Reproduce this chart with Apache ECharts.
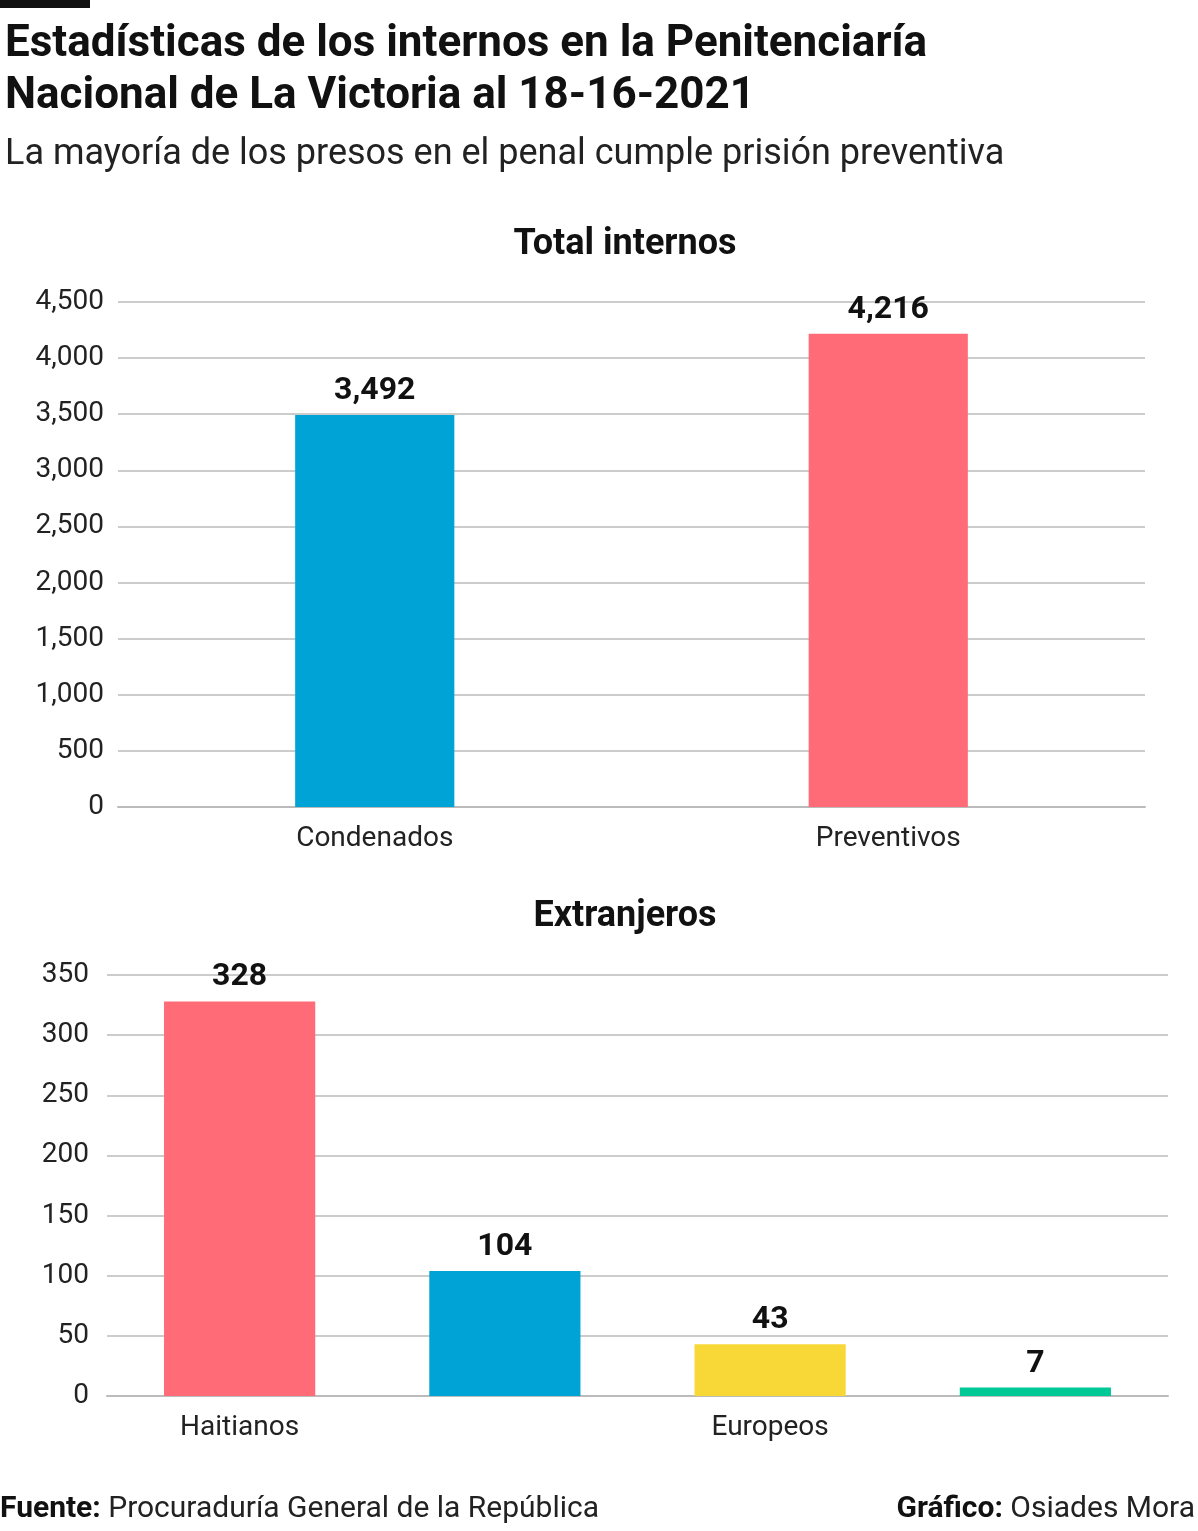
<!DOCTYPE html>
<html>
<head>
<meta charset="utf-8">
<script src="https://cdn.jsdelivr.net/npm/echarts@6/dist/echarts.min.js"></script>
<style>
  html, body { margin: 0; padding: 0; background: #fff; }
  #chart { width: 1198px; height: 1531px; }
</style>
</head>
<body>
<div id="chart"></div>
<script>
const totalCats = ["Condenados", "Preventivos"];
const totalVals = [3492, 4216];
const totalColors = ["#00A3D6", "#FF6B77"];

const extCats = ["Haitianos", "Estadounidenses", "Europeos", "Otros"];
const extVals = [328, 104, 43, 7];
const extColors = ["#FF6B77", "#00A3D6", "#F8D837", "#00C896"];

const FONT = "'Liberation Sans Narrow', Roboto, sans-serif";
const chart = echarts.init(document.getElementById("chart"));

const axisLabel = { color: "#222", fontSize: 28, fontFamily: FONT };
const labelTop = {
  show: true, position: "top", distance: 8,
  fontSize: 32, fontWeight: "bold", color: "#111", fontFamily: FONT,
  formatter: (p) => p.value.toLocaleString("en-US")
};

chart.setOption({
  animation: false,
  title: [
    { text: "Estadísticas de los internos en la Penitenciaría\nNacional de La Victoria al 18-16-2021", left: 0, top: 14,
      textStyle: { fontSize: 44, fontWeight: "bold", color: "#111", fontFamily: FONT, lineHeight: 52 } },
    { text: "La mayoría de los presos en el penal cumple prisión preventiva", left: 0, top: 132,
      textStyle: { fontSize: 36, fontWeight: "normal", color: "#222", fontFamily: FONT } },
    { text: "Total internos", left: 620, textAlign: "center", top: 222,
      textStyle: { fontSize: 36, fontWeight: "bold", color: "#111", fontFamily: FONT } },
    { text: "Extranjeros", left: 620, textAlign: "center", top: 894,
      textStyle: { fontSize: 36, fontWeight: "bold", color: "#111", fontFamily: FONT } }
  ],
  graphic: [
    { type: "rect", shape: { x: 0, y: 0, width: 90, height: 8 }, style: { fill: "#111" } },
    { type: "text", left: 0, top: 1494, style: {
        text: "{b|Fuente:} Procuraduría General de la República",
        rich: { b: { fontWeight: "bold", fontSize: 30, fontFamily: FONT, fill: "#111" } },
        fontSize: 30, fontFamily: FONT, fill: "#222" } },
    { type: "text", right: 3, top: 1494, style: {
        text: "{b|Gráfico:} Osiades Mora",
        rich: { b: { fontWeight: "bold", fontSize: 30, fontFamily: FONT, fill: "#111" } },
        fontSize: 30, fontFamily: FONT, fill: "#222" } }
  ],
  grid: [
    { left: 118, right: 53, top: 302, height: 505 },
    { left: 107, right: 30, top: 975, height: 421 }
  ],
  xAxis: [
    { type: "category", gridIndex: 0, data: totalCats,
      axisLine: { lineStyle: { color: "#bbb", width: 2 } }, axisTick: { show: false },
      axisLabel: { ...axisLabel, margin: 18 } },
    { type: "category", gridIndex: 1, data: extCats,
      axisLine: { lineStyle: { color: "#bbb", width: 2 } }, axisTick: { show: false },
      axisLabel: { ...axisLabel, margin: 18 } }
  ],
  yAxis: [
    { type: "value", gridIndex: 0, min: 0, max: 4500, interval: 500,
      axisLine: { show: false }, axisTick: { show: false },
      splitLine: { lineStyle: { color: "#ccc", width: 2 } },
      axisLabel: { ...axisLabel, margin: 14, formatter: (v) => v.toLocaleString("en-US") } },
    { type: "value", gridIndex: 1, min: 0, max: 350, interval: 50,
      axisLine: { show: false }, axisTick: { show: false },
      splitLine: { lineStyle: { color: "#ccc", width: 2 } },
      axisLabel: { ...axisLabel, margin: 18 } }
  ],
  series: [
    { type: "bar", xAxisIndex: 0, yAxisIndex: 0, barWidth: "31%",
      data: totalVals.map((v, i) => ({ value: v, itemStyle: { color: totalColors[i] } })),
      label: labelTop },
    { type: "bar", xAxisIndex: 1, yAxisIndex: 1, barWidth: "57%",
      data: extVals.map((v, i) => ({ value: v, itemStyle: { color: extColors[i] } })),
      label: labelTop }
  ]
});
</script>
</body>
</html>
